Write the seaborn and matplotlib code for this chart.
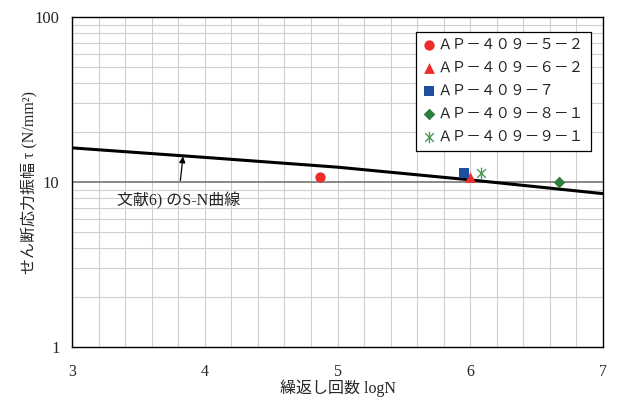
import numpy as np
import pandas as pd
import matplotlib
matplotlib.use("Agg")
import matplotlib.pyplot as plt
from matplotlib.path import Path
from matplotlib.ticker import FixedLocator, NullFormatter, LogLocator
import seaborn as sns

# ---- data ----
specimens = ["ＡＰ－４０９－５－２", "ＡＰ－４０９－６－２", "ＡＰ－４０９－７",
             "ＡＰ－４０９－８－１", "ＡＰ－４０９－９－１"]
log_n = [4.87, 6.00, 5.95, 6.67, 6.08]
tau = [10.7, 10.7, 11.3, 10.0, 11.3]

sn_log_n = [3.0, 4.0, 5.0, 6.0, 7.0]
sn_tau = [16.1, 14.1, 12.3, 10.3, 8.5]

x_ticks = [3, 4, 5, 6, 7]
y_ticks = [1, 10, 100]
y_tick_labels = ["1", "10", "100"]

sns.set_theme(style="white")
plt.rcParams['font.family'] = ['Liberation Serif', 'Noto Sans CJK JP']

fig = plt.figure(figsize=(6.17, 3.97), dpi=100)
ax = fig.add_axes([72/617, 1-347/397, (603-72)/617, (347-17)/397])

# star marker (x with vertical line)
star = Path([(0, -1), (0, 1), (-0.75, -0.75), (0.75, 0.75), (-0.75, 0.75), (0.75, -0.75)],
            [Path.MOVETO, Path.LINETO, Path.MOVETO, Path.LINETO, Path.MOVETO, Path.LINETO])

colors = {specimens[0]: "#ee2c2c", specimens[1]: "#ee2c2c", specimens[2]: "#1f4e9e",
          specimens[3]: "#2e7d3a", specimens[4]: "#4f9a5c"}
markers = {specimens[0]: "o", specimens[1]: "^", specimens[2]: "s",
           specimens[3]: "D", specimens[4]: star}
sizes = {specimens[0]: 55, specimens[1]: 60, specimens[2]: 55, specimens[3]: 35, specimens[4]: 70}

# grid
ax.set_xlim(3, 7)
ax.set_yscale("log")
ax.set_ylim(1, 100)
ax.xaxis.set_minor_locator(FixedLocator(np.arange(3, 7.01, 0.2)))
ax.yaxis.set_minor_locator(LogLocator(base=10, subs=np.arange(2, 10)))
ax.yaxis.set_minor_formatter(NullFormatter())
ax.grid(which="minor", axis="both", color="#cfcfcf", lw=0.8)
ax.grid(which="major", axis="x", color="#cfcfcf", lw=0.8)
ax.axhline(10, color="#808080", lw=1.3, zorder=1)

sn_df = pd.DataFrame({"logN": sn_log_n, "tau": sn_tau})
sns.lineplot(data=sn_df, x="logN", y="tau", ax=ax, color="black", lw=2.2, zorder=3)

df = pd.DataFrame({"logN": log_n, "tau": tau, "name": specimens})
for s in specimens:
    sub = df[df["name"] == s]
    lw = 1.0 if s == specimens[4] else 0
    sns.scatterplot(data=sub, x="logN", y="tau", ax=ax, color=colors[s],
                    marker=markers[s], s=sizes[s], edgecolor=colors[s],
                    linewidth=lw, label=s, zorder=4)

ax.set_xticks(x_ticks)
ax.set_xticklabels([str(v) for v in x_ticks], fontsize=11.5)
ax.set_yticks(y_ticks)
ax.set_yticklabels(y_tick_labels, fontsize=12)
ax.tick_params(axis="x", which="major", direction="in", length=4, width=1, pad=12, color="black")
ax.tick_params(axis="y", which="major", direction="in", length=0, pad=9)
ax.tick_params(which="minor", length=0)

for sp in ax.spines.values():
    sp.set_color("black")
    sp.set_linewidth(1.0)

ax.set_xlabel("繰返し回数 logN", fontsize=11.5)
ax.xaxis.label.set_va("center")
ax.xaxis.set_label_coords(0.5, -0.124)
ax.set_ylabel("せん断応力振幅 τ (N/mm²)", fontsize=11.5, labelpad=-2)

ax.annotate("文献6) のS-N曲線", xy=(3.836, 14.3), xytext=(3.80, 7.7),
            fontsize=11.5, ha="center", va="center",
            arrowprops=dict(arrowstyle="-|>", color="black", lw=0.9,
                            mutation_scale=9, shrinkA=6, shrinkB=0))

leg = ax.legend(loc="upper right", bbox_to_anchor=(0.977, 0.955), fontsize=10.5,
                frameon=True, fancybox=False, edgecolor="black", framealpha=1,
                handletextpad=0.15, handlelength=0.9, labelspacing=0.68,
                borderpad=0.45, borderaxespad=0)
leg.get_frame().set_linewidth(0.9)

fig.savefig("out.png", dpi=100)
